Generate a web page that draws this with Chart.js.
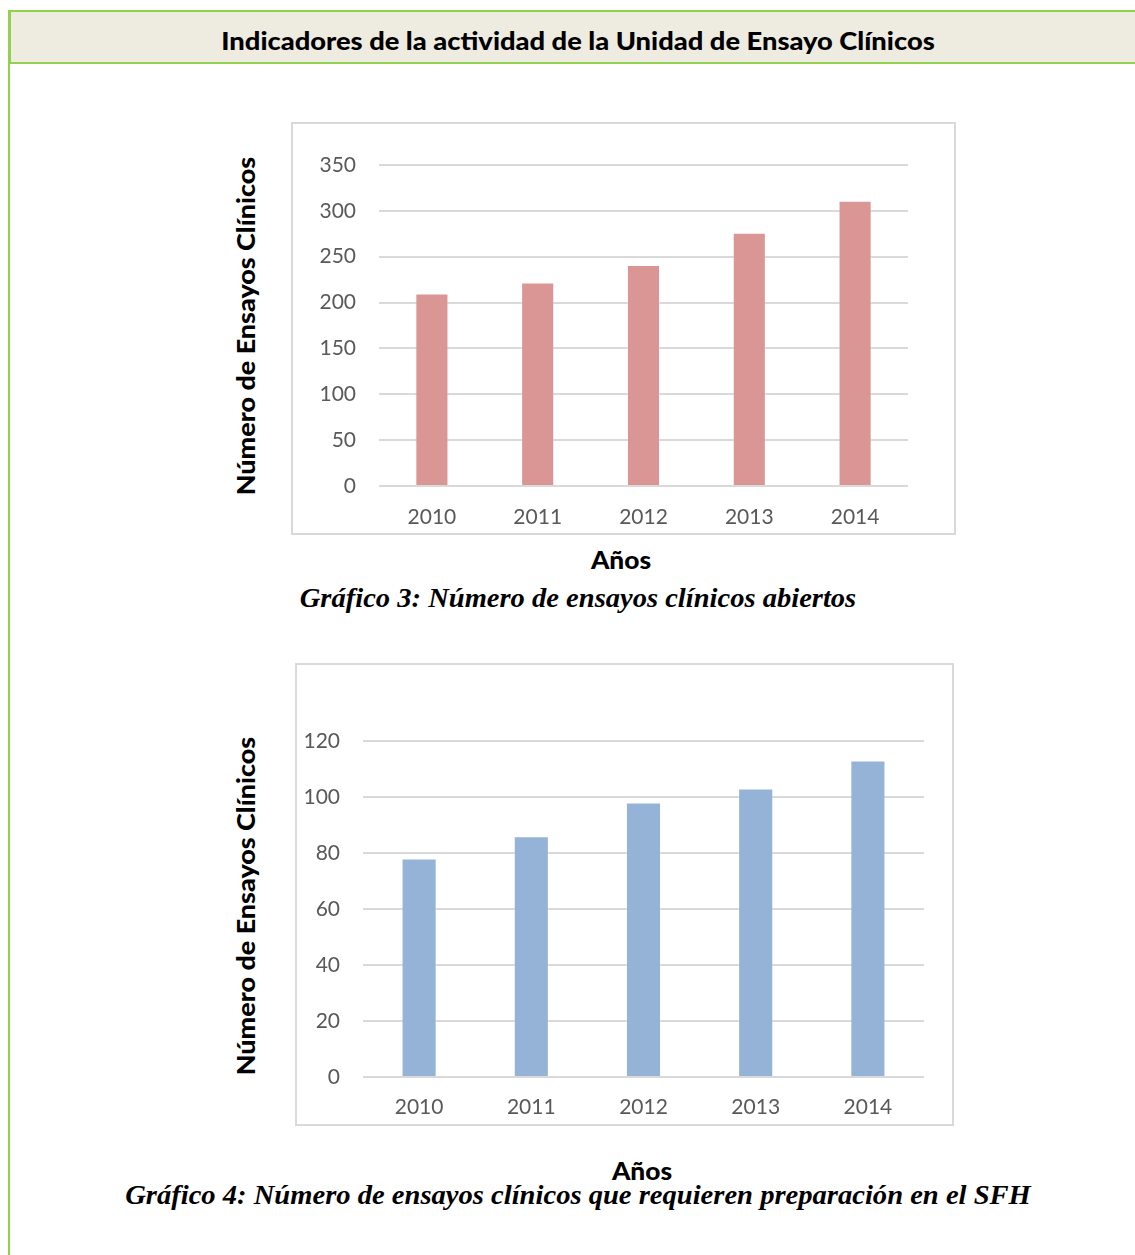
<!DOCTYPE html>
<html lang="es">
<head>
<meta charset="utf-8">
<title>Indicadores de la actividad de la Unidad de Ensayo Clínicos</title>
<script src="https://cdn.jsdelivr.net/npm/chart.js@4.4.1/dist/chart.umd.min.js"></script>
<style>
  html, body { margin: 0; padding: 0; background: #ffffff; }
  body { width: 1135px; height: 1255px; position: relative; overflow: hidden; font-family: Lato, "Open Sans", sans-serif; }
  .header {
    position: absolute; left: 8px; top: 10px; width: 1140px; height: 54px;
    box-sizing: border-box; border: 2px solid #92d050; border-left-width: 3px;
    background: #eeece1;
  }
  .sideline { position: absolute; left: 8px; top: 64px; width: 2px; height: 1191px; background: #92d050; }
  .box { position: absolute; box-sizing: border-box; border: 2px solid #d9d9d9; background: #fff; }
  .box canvas { display: block; }
  .txt { position: absolute; white-space: nowrap; line-height: 1; color: #000; transform-origin: 50% 50%; }
  .title { font-weight: 900; font-size: 25px; }
  .axis { font-weight: 900; font-size: 25px; }
  .caption { font-family: "Liberation Serif", "DejaVu Serif", serif; font-weight: 700; font-style: italic; font-size: 27px; }
</style>
</head>
<body>
<div class="header"></div>
<div class="sideline"></div>
<div class="txt title" data-w="713" data-x="578" data-y="40">Indicadores de la actividad de la Unidad de Ensayo Clínicos</div>

<div class="box" style="left:291px; top:122px; width:665px; height:413px;">
  <canvas id="c1" width="661" height="409"></canvas>
</div>
<div class="txt axis" data-w="338" data-x="245" data-y="326" data-rot="1">Número de Ensayos Clínicos</div>
<div class="txt axis" data-w="60" data-x="621" data-y="559">Años</div>
<div class="txt caption" data-w="556" data-x="578" data-y="598">Gráfico 3: Número de ensayos clínicos abiertos</div>

<div class="box" style="left:295px; top:663px; width:659px; height:463px;">
  <canvas id="c2" width="655" height="459"></canvas>
</div>
<div class="txt axis" data-w="338" data-x="245" data-y="906" data-rot="1">Número de Ensayos Clínicos</div>
<div class="txt axis" data-w="60" data-x="642" data-y="1170">Años</div>
<div class="txt caption" data-w="906" data-x="578" data-y="1195">Gráfico 4: Número de ensayos clínicos que requieren preparación en el SFH</div>

<script>
// Years on the category axis (shared by both charts)
const years = ['2010', '2011', '2012', '2013', '2014'];

// Gráfico 3: ensayos clínicos abiertos por año
const ensayosAbiertos = [210, 222, 241, 276, 311];
const ejeAbiertos = { max: 350, step: 50 };

// Gráfico 4: ensayos que requieren preparación en el SFH
const ensayosPreparacion = [78, 86, 98, 103, 113];
const ejePreparacion = { max: 120, step: 20 };

Chart.defaults.font.family = 'Lato, "Open Sans", sans-serif';
Chart.defaults.color = '#595959';

function barChart(id, values, axis, color, area) {
  const ctx = document.getElementById(id);
  return new Chart(ctx, {
    type: 'bar',
    data: {
      labels: years,
      datasets: [{
        data: values,
        backgroundColor: color,
        borderColor: 'rgba(255,255,255,0.3)',
        borderWidth: 1,
        barPercentage: 0.313,
        categoryPercentage: 1.0
      }]
    },
    options: {
      responsive: false,
      animation: false,
      events: [],
      layout: { padding: { top: area.top, right: area.right, left: 0, bottom: 0 } },
      plugins: { legend: { display: false }, tooltip: { enabled: false }, title: { display: false } },
      scales: {
        x: {
          grid: { display: false, drawTicks: false },
          border: { display: false },
          ticks: { font: { size: 21 }, color: '#595959', padding: area.xPad, maxRotation: 0 },
          afterFit: s => { s.height = area.xHeight; }
        },
        y: {
          min: 0,
          max: axis.max,
          grid: { color: '#d9d9d9', lineWidth: 2, drawTicks: false },
          border: { display: false },
          ticks: { stepSize: axis.step, font: { size: 21 }, color: '#595959', padding: 23 },
          afterFit: s => { s.width = area.left; }
        }
      }
    }
  });
}

barChart('c1', ensayosAbiertos, ejeAbiertos, '#d99694',
  { left: 86, right: 46, top: 41, xHeight: 47, xPad: 19 });
barChart('c2', ensayosPreparacion, ejePreparacion, '#95b3d7',
  { left: 66, right: 28, top: 76, xHeight: 47, xPad: 18 });

// Place text blocks by centre and squeeze them to their set widths
function placeText() {
  document.querySelectorAll('.txt').forEach(el => {
    el.style.transform = 'none';
    const w = el.offsetWidth;
    const target = parseFloat(el.dataset.w);
    const s = target / w;
    el.style.left = el.dataset.x + 'px';
    el.style.top = el.dataset.y + 'px';
    const rot = el.dataset.rot ? ' rotate(-90deg)' : '';
    el.style.transform = 'translate(-50%,-50%)' + rot + ' scaleX(' + s.toFixed(4) + ')';
  });
}
placeText();
if (document.fonts && document.fonts.ready) document.fonts.ready.then(placeText);
</script>
</body>
</html>
